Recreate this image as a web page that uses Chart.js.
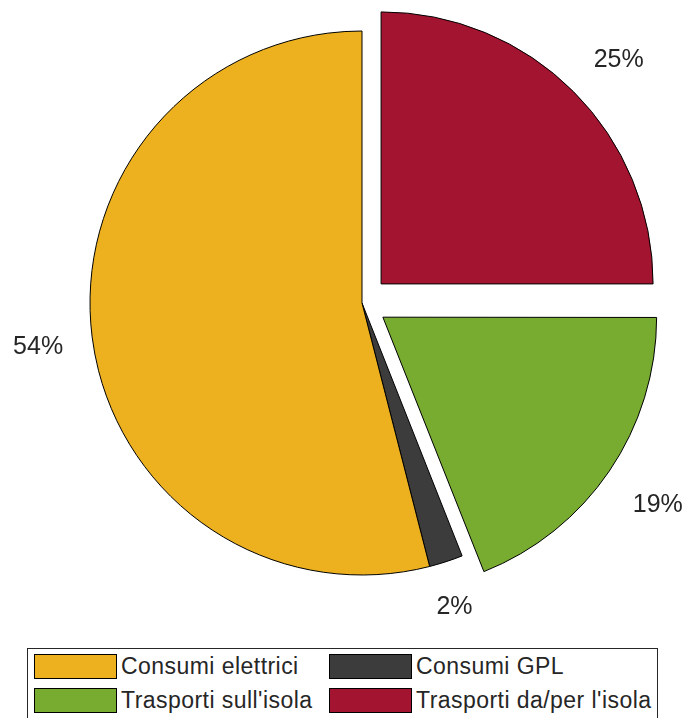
<!DOCTYPE html>
<html>
<head>
<meta charset="utf-8">
<script src="https://cdn.jsdelivr.net/npm/chart.js@4/dist/chart.umd.min.js"></script>
<style>
  html, body { margin: 0; padding: 0; background: #fff; }
  body { width: 687px; height: 718px; position: relative; overflow: hidden; font-family: "Liberation Sans", Arial, sans-serif; }
  #pie { position: absolute; left: 0; top: 0; }
  #legend {
    position: absolute; left: 27px; top: 648px; width: 631px; height: 80px;
    border: 1px solid #262626; box-sizing: border-box; background: #fff;
  }
  .item { position: absolute; height: 25px; display: flex; align-items: center; }
  .swatch { width: 83px; height: 25px; border: 1px solid #000; box-sizing: border-box; margin-right: 4px; }
  .label { font-size: 23px; letter-spacing: 0.45px; color: #262626; white-space: nowrap; }
</style>
</head>
<body>
<canvas id="pie" width="687" height="640"></canvas>
<div id="legend"></div>
<script>
// slices in legend order (counter-clockwise from 12 o'clock)
const categories = ['Consumi elettrici', 'Consumi GPL', "Trasporti sull'isola", "Trasporti da/per l'isola"]
const shares = [54, 2, 19, 25]
const exploded = [false, false, true, true]
const colors = ['#EDB120', '#3C3C3C', '#77AC30', '#A2142F']

const R = 272
const EXPLODE_PX = 27

// Chart.js goes clockwise, so feed the slices in reverse
const order = categories.map((_, i) => i).reverse()

// ArcElement shifts by offset/4 * (1 + (1 - sin(circumference)))
const offsetFor = (share) => {
    const circ = Math.min(Math.PI, share / 100 * 2 * Math.PI)
    const fix = 1 - Math.sin(circ)
    return EXPLODE_PX * 4 / (1 + fix)
}

// text anchored at 1.1 R, aligned away from the pie
const percentLabels = {
    id: 'percentLabels',
    afterDatasetsDraw(chart) {
        const ctx = chart.ctx
        const meta = chart.getDatasetMeta(0)
        ctx.save()
        ctx.font = '25px "Liberation Sans", Arial, sans-serif'
        ctx.fillStyle = '#262626'
        ctx.textAlign = 'left'
        ctx.textBaseline = 'alphabetic'
        meta.data.forEach((arc, i) => {
            const src = order[i]
            const txt = shares[src] + '%'
            const mid = (arc.startAngle + arc.endAngle) / 2
            const c = Math.cos(mid), s = Math.sin(mid)
            const dist = (exploded[src] ? EXPLODE_PX : 0) + arc.outerRadius * 1.1
            const ax = arc.x + c * dist
            const ay = arc.y + s * dist
            const m = ctx.measureText(txt)
            const h = m.actualBoundingBoxAscent
            let x
            if (Math.abs(c) < 0.35) x = ax - m.width / 2
            else if (c < 0) x = ax - m.width - 2
            else x = ax + 1
            let y
            if (Math.abs(s) < 0.35) y = ay + 5 + h / 2
            else if (s > 0) y = ay + 8 + h
            else y = ay - 5
            ctx.fillText(txt, x, y)
        })
        ctx.restore()
    }
}

new Chart(document.getElementById('pie').getContext('2d'), {
    type: 'pie',
    data: {
        labels: order.map(i => categories[i]),
        datasets: [{
            data: order.map(i => shares[i]),
            backgroundColor: order.map(i => colors[i]),
            borderColor: '#000',
            borderWidth: 1,
            offset: order.map(i => exploded[i] ? offsetFor(shares[i]) : 0),
            radius: R,
            clip: false
        }]
    },
    options: {
        responsive: false,
        animation: false,
        layout: { padding: { left: 37, right: 0, top: 0, bottom: 34 } },
        plugins: {
            legend: { display: false },
            tooltip: { enabled: false }
        }
    },
    plugins: [percentLabels]
})

// two-column legend box
const legend = document.getElementById('legend')
const cols = [6, 301]
const rows = [5, 39]
categories.forEach((name, i) => {
    const el = document.createElement('div')
    el.className = 'item'
    el.style.left = cols[i % 2] + 'px'
    el.style.top = rows[Math.floor(i / 2)] + 'px'
    el.innerHTML = '<div class="swatch" style="background:' + colors[i] + '"></div><span class="label"></span>'
    el.querySelector('.label').textContent = name
    legend.appendChild(el)
})
</script>
</body>
</html>
